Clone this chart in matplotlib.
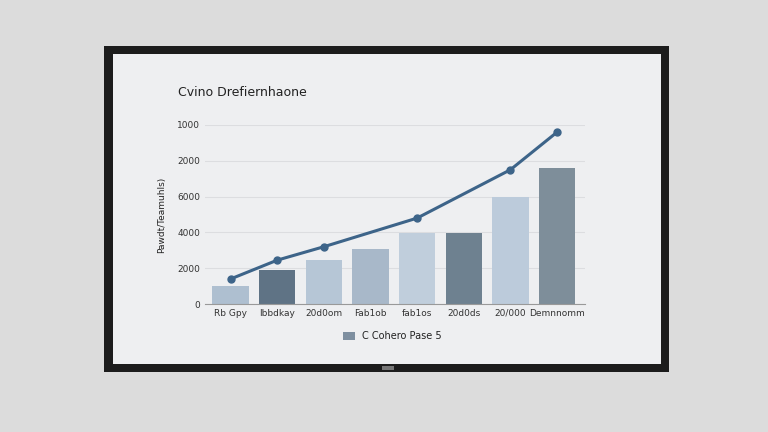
import numpy as np
import matplotlib.pyplot as plt
from matplotlib.patches import Rectangle

categories = ['Rb Gpy', 'Ibbdkay', '20d0om', 'Fab1ob', 'fab1os', '20d0ds', '20/000', 'Demnnomm']
bar_values = [1000, 1900, 2450, 3050, 3950, 3950, 5950, 7600]
line_idx = [0, 1, 2, 4, 6, 7]
line_values = [1400, 2450, 3200, 4800, 7500, 9600]
yticks = [0, 2000, 4000, 6000, 8000, 10000]
ytick_labels = ['0', '2000', '4000', '6000', '2000', '1000']
bar_colors = ['#aebfd0', '#5f7385', '#b6c6d6', '#a8b8c9', '#c0cedc', '#6e8190', '#bccbdb', '#7e8e9a']

fig = plt.figure(figsize=(7.68, 4.32), dpi=100)
fig.patch.set_facecolor('#dcdcdc')
# TV frame and screen (drawn below the axes)
fig.add_artist(Rectangle((104/768, 1 - 372/432), 565/768, 326/432, transform=fig.transFigure,
                         facecolor='#1c1c1c', edgecolor='none', zorder=-10))
fig.add_artist(Rectangle((113/768, 1 - 364/432), 548/768, 310/432, transform=fig.transFigure,
                         facecolor='#eeeff1', edgecolor='none', zorder=-9))
fig.add_artist(Rectangle((382/768, 1 - 370/432), 12/768, 4/432, transform=fig.transFigure,
                         facecolor='#777777', edgecolor='none', zorder=-8))

ax = fig.add_axes([205/768, 1 - 304/432, 380/768, 179/432])
ax.set_facecolor('none')
x = np.arange(len(categories))
ax.bar(x, bar_values, width=0.78, color=bar_colors, zorder=2)
ax.plot(x[line_idx], line_values, '-o', color='#3d6489', lw=2.2, ms=5, zorder=3)
ax.set_ylim(0, 10000)
ax.set_xlim(-0.55, len(categories) - 0.4)
ax.set_yticks(yticks, ytick_labels, fontsize=6.5, color='#333333')
ax.set_xticks(x, categories, fontsize=6.5, color='#333333')
ax.tick_params(length=0)
ax.grid(axis='y', color='#dcdde0', lw=0.8, zorder=0)
for s in ['top', 'right', 'left']:
    ax.spines[s].set_visible(False)
ax.spines['bottom'].set_color('#999999')
ax.set_ylabel('Pawdt/Teamuhls)', fontsize=6.5, color='#222222', labelpad=8)

fig.text(178/768, 1 - 92/432, 'Cvino Drefiernhaone', fontsize=9, color='#222222', va='center')
fig.add_artist(Rectangle((343/768, 1 - 340/432), 12/768, 8/432, transform=fig.transFigure,
                         facecolor='#7e8fa0', edgecolor='none'))
fig.text(362/768, 1 - 336/432, 'C Cohero Pase 5', fontsize=7, color='#222222', va='center')

plt.savefig('out.png', dpi=100)
